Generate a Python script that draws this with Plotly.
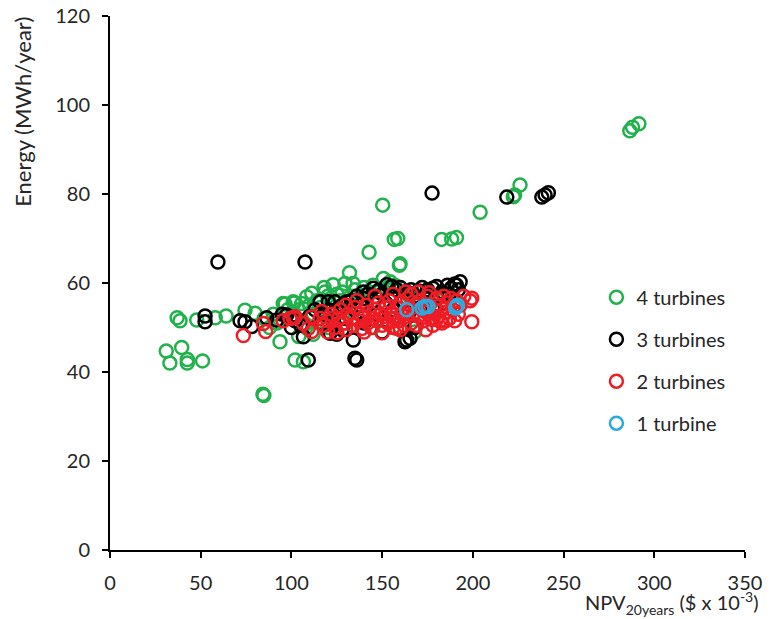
import plotly.graph_objects as go

# ---- data (NPV in $ x 10^-3, Energy in MWh/year) ----
green_x = [31, 33, 39.5, 42.6, 42.6, 51, 37, 38.6, 47.8, 58, 64, 74.4, 80, 84.3, 84.8, 93.7, 102, 106.6,
           96.5, 101.4, 101, 105.7, 108.4, 111.2, 118.5, 123, 95.5, 132, 129.5, 134, 142.8, 150.3, 156.7,
           158.6, 159.5, 159.9, 150.7, 154.4, 182.8, 188.3, 191, 204, 222.3, 223, 226, 286.5, 288, 291.5,
           85, 90, 98, 104, 110, 114, 120, 125, 128, 135, 140, 145, 112, 116, 122, 127, 131, 138, 143, 148,
           152, 157, 162, 165, 170, 175, 108, 112, 130, 160, 168, 145, 92, 88, 135, 155, 178, 185, 190, 120,
           104, 100, 118]
green_y = [44.7, 42, 45.5, 42.8, 42, 42.5, 52.2, 51.5, 51.7, 52.2, 52.6, 53.9, 53.2, 35, 34.7, 46.8, 42.7, 42.3,
           55.3, 55.5, 55.8, 55.4, 56.9, 57.7, 58, 59.6, 55.4, 62.3, 59.9, 59.9, 66.9, 77.5, 69.8,
           70, 64, 64.3, 61, 60.3, 69.8, 69.9, 70.2, 75.9, 79.4, 79.8, 82, 94.2, 95, 95.8,
           52, 53, 54, 54, 55, 56, 57, 57.5, 58, 58.5, 59, 59.5, 53, 54.5, 55, 56, 56.5, 57, 58, 58,
           59, 59.5, 58, 57, 57, 58, 50, 48.5, 51, 50, 49, 50, 51, 50, 52, 53, 56, 57, 56, 50,
           48, 52.5, 59]

black_x = [52.4, 52.4, 59.5, 71.7, 78.1, 86.4, 91.9, 74.4, 97.4, 106.6, 107.5, 109.3, 135, 136, 134.1,
           163.5, 162.6, 165.4, 177.5, 218.7, 238, 239.8, 241.6, 193, 191, 121.3,
           115.8, 120.3, 124, 130.5, 121.3, 139.7, 145.1, 152.5, 155.3, 163.5, 125, 128, 133, 136, 140, 142,
           148, 150, 158, 160, 166, 170, 172, 175, 178, 180, 183, 186, 188, 190, 168, 145, 155, 162, 175,
           118, 110, 102, 113, 138, 152, 130, 182, 187, 192, 117, 123, 140, 125, 128, 150, 168, 95, 100,
           105, 147, 156, 178, 185, 165]
black_y = [52.6, 51.3, 64.7, 51.5, 50.2, 52.2, 51.7, 51.3, 52.8, 47.9, 64.7, 42.7, 43.1, 42.7, 47.2,
           47.2, 46.8, 47.6, 80.2, 79.3, 79.3, 79.8, 80.3, 60.3, 59.5, 48.7,
           55.8, 55.8, 55.8, 55.8, 53.9, 58, 58.8, 59.6, 59.2, 58, 54, 55, 56, 57, 56.5, 57.5,
           58.3, 57.5, 58.5, 59, 58.5, 58.2, 59, 58.5, 58.8, 59.2, 58, 59.5, 58.8, 59.8, 57, 56, 57, 56, 56.5,
           53, 52.5, 51.5, 54, 55, 55.5, 52, 57, 57.5, 58.5, 51, 50.5, 51, 48.5, 49.5, 49, 50, 53, 50,
           50.5, 53, 54, 54.5, 55.5, 53.5]

red_x = [73.5, 84.5, 85.8, 95.5, 101, 99.2, 102, 106.6, 109.3, 111.2, 111.2, 116.7, 115.8, 122.2,
         199.4, 198.5, 199.4,
         118, 120, 122, 124, 126, 127, 129, 130, 131, 133, 134, 135, 137, 138, 139, 140, 141, 142, 143, 144,
         145, 146, 147, 148, 149, 150, 151, 152, 153, 154, 155, 156, 157, 158, 159, 160, 161, 162, 163, 164,
         165, 166, 167, 168, 169, 170, 171, 172, 173, 174, 175, 176, 177, 178, 179, 180, 181, 182, 183, 184,
         185, 186, 187, 188, 189, 190, 191, 192, 193, 182, 185, 180, 178, 195, 160, 150, 140, 125, 120,
         130, 136, 146, 156, 166, 176, 170, 163, 174, 158]
red_y = [48.2, 50.9, 49.1, 51.5, 52.2, 52, 52.4, 50.9, 49.8, 49.1, 52.4, 53.6, 52, 52,
         56.6, 56, 51.3,
         50.5, 51.5, 53, 50, 52, 54, 51, 49.5, 53, 52, 50.5, 54.5, 51.5, 53, 49.8, 52.5, 55, 51, 53.5, 50,
         52, 54, 51.5, 55.5, 53, 50.5, 52.5, 54.5, 51, 56, 53, 50, 52, 54.5, 51.5, 55.5, 53, 50.5, 52.5, 56.5,
         54, 51, 53, 55, 50.5, 52.5, 56, 54, 51.5, 53.5, 57, 55, 52, 50.5, 54, 56.5, 52.5, 55, 51, 57,
         53.5, 55.5, 52, 56.5, 54, 51.5, 56, 53, 55, 51.5, 51.5, 51.8, 51.8, 57, 49.5, 48.8, 49, 48.8, 49,
         55, 56, 57, 57.5, 57.5, 57.8, 58, 58, 49.5, 49.8]

blue_x = [163.5, 172, 173.6, 175.3, 190.5, 191.1, 191.5]
blue_y = [54, 54.4, 54.7, 54.7, 54.4, 54.8, 55]

series = [
    ("4 turbines", green_x, green_y, "#22B14C"),
    ("3 turbines", black_x, black_y, "#000000"),
    ("2 turbines", red_x, red_y, "#EE1C25"),
    ("1 turbine", blue_x, blue_y, "#29ABE2"),
]

FONT = "Lato, 'Open Sans', sans-serif"
TXT = "#262626"

fig = go.Figure()
for name, xs, ys, col in series:
    fig.add_trace(go.Scatter(
        x=xs, y=ys, mode="markers", name=name, legendgroup=name,
        marker=dict(symbol="circle-open", size=13, color=col, line=dict(width=2.5, color=col)),
    ))

axis_common = dict(
    showline=True, linewidth=2, linecolor="black", showgrid=False, zeroline=False,
    ticks="outside", ticklen=6, tickwidth=2, tickcolor="black",
    tickfont=dict(family=FONT, size=20, color=TXT), ticklabelstandoff=8,
    ticklabeloverflow="allow", automargin=False,
)
fig.update_xaxes(range=[0, 350], dtick=50, tick0=0, **axis_common)
fig.update_yaxes(range=[0, 120], dtick=20, tick0=0, **axis_common)

# page body has an 8px margin: figure drawn 8px right/down, so compensate
fig.update_layout(
    width=766, height=611,
    margin=dict(l=102, r=29, t=8, b=69, autoexpand=False),
    plot_bgcolor="white", paper_bgcolor="white",
    showlegend=True,
    legend=dict(x=0.766, y=0.510, xanchor="left", yanchor="top",
                font=dict(family=FONT, size=20, color=TXT),
                bgcolor="rgba(0,0,0,0)", traceorder="grouped", tracegroupgap=13),
    annotations=[
        dict(text="NPV<sub>20years</sub> ($ x 10<sup>-3</sup>)", xref="paper", yref="paper",
             x=0.745, y=-0.1, xanchor="left", yanchor="middle", showarrow=False,
             font=dict(family=FONT, size=20, color=TXT)),
        dict(text="Energy (MWh/year)", xref="paper", yref="paper", textangle=-90,
             x=-0.139, y=0.82, xanchor="center", yanchor="middle", showarrow=False,
             font=dict(family=FONT, size=22, color=TXT)),
    ],
)

fig.write_html("out.html")
